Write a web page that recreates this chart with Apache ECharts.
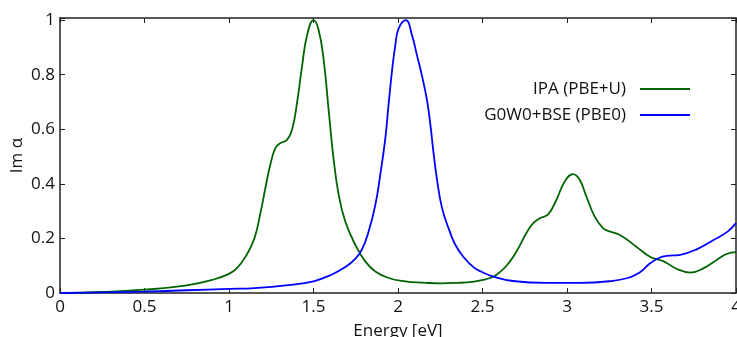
<!DOCTYPE html>
<html>
<head>
<meta charset="utf-8">
<script src="https://cdn.jsdelivr.net/npm/echarts@6/dist/echarts.min.js"></script>
<style>
html,body{margin:0;padding:0;background:#fff;}
#chart{width:737px;height:337px;}
</style>
</head>
<body>
<div id="chart"></div>
<script>
const seriesNames = ['IPA (PBE+U)', 'G0W0+BSE (PBE0)'];
const xAxisName = 'Energy [eV]';
const yAxisName = 'Im α';

const energyIPA = [0, 0.25, 0.5, 0.75, 0.9, 1.0, 1.05, 1.1, 1.15, 1.185, 1.215, 1.244, 1.274, 1.303, 1.343, 1.373, 1.402, 1.432, 1.462, 1.5, 1.53, 1.56, 1.589, 1.619, 1.649, 1.688, 1.747, 1.806, 1.866, 1.944, 2.043, 2.15, 2.25, 2.35, 2.45, 2.51, 2.544, 2.583, 2.642, 2.701, 2.76, 2.8, 2.839, 2.888, 2.937, 2.986, 3.036, 3.075, 3.115, 3.164, 3.213, 3.252, 3.316, 3.414, 3.493, 3.572, 3.651, 3.73, 3.809, 3.888, 3.947, 4.0];
const imIPA = [0, 0.004, 0.012, 0.028, 0.048, 0.07, 0.093, 0.135, 0.2, 0.29, 0.384, 0.469, 0.531, 0.549, 0.561, 0.598, 0.695, 0.83, 0.945, 1.0, 0.965, 0.855, 0.675, 0.49, 0.36, 0.262, 0.177, 0.116, 0.079, 0.055, 0.043, 0.038, 0.035, 0.037, 0.042, 0.049, 0.055, 0.067, 0.1, 0.152, 0.22, 0.256, 0.274, 0.288, 0.341, 0.408, 0.436, 0.415, 0.353, 0.28, 0.238, 0.226, 0.212, 0.168, 0.132, 0.116, 0.088, 0.075, 0.091, 0.122, 0.144, 0.15];

const energyBSE = [0, 0.25, 0.5, 0.75, 1.0, 1.15, 1.35, 1.5, 1.609, 1.688, 1.747, 1.787, 1.826, 1.866, 1.895, 1.925, 1.944, 1.964, 1.984, 2.004, 2.047, 2.083, 2.112, 2.142, 2.172, 2.191, 2.211, 2.231, 2.26, 2.3, 2.339, 2.39, 2.45, 2.5, 2.56, 2.68, 2.88, 3.08, 3.25, 3.36, 3.43, 3.49, 3.55, 3.59, 3.67, 3.77, 3.87, 3.95, 4.0];
const imBSE = [0, 0.002, 0.005, 0.01, 0.015, 0.018, 0.029, 0.043, 0.068, 0.095, 0.125, 0.16, 0.225, 0.323, 0.433, 0.567, 0.689, 0.811, 0.908, 0.97, 1.0, 0.945, 0.872, 0.796, 0.705, 0.62, 0.51, 0.415, 0.313, 0.236, 0.177, 0.13, 0.093, 0.076, 0.061, 0.044, 0.037, 0.037, 0.043, 0.055, 0.075, 0.108, 0.13, 0.136, 0.14, 0.161, 0.195, 0.225, 0.256];

const xTicks = [0, 0.5, 1, 1.5, 2, 2.5, 3, 3.5, 4];
const yTicks = [0, 0.2, 0.4, 0.6, 0.8, 1];

const pairs = (xs, ys) => xs.map((x, i) => [x, ys[i]]);
const FONT = 'Open Sans';
const TXT = '#111';
const FRAME = '#222';

const isTick = (v, ticks) => ticks.some(t => Math.abs(t - v) < 1e-9);

const chart = echarts.init(document.getElementById('chart'), null, {renderer: 'canvas'});
const axisCommon = {
  axisLine: {show: true, onZero: false, lineStyle: {color: FRAME, width: 1.5}},
  axisTick: {show: true, inside: true, length: 5, lineStyle: {color: FRAME, width: 1}},
  splitLine: {show: false}
};
chart.setOption({
  animation: false,
  backgroundColor: '#fff',
  grid: {left: 60, right: 1, top: 18, bottom: 44, containLabel: false, outerBoundsMode: 'none'},
  legend: {
    orient: 'vertical',
    right: 42,
    top: 73,
    align: 'right',
    icon: 'rect',
    itemWidth: 50,
    itemHeight: 2,
    itemGap: 4,
    textStyle: {fontFamily: FONT, fontSize: 17, color: TXT, padding: [0, 9, 0, 0], lineHeight: 22},
    data: seriesNames
  },
  xAxis: [
    Object.assign({}, axisCommon, {
      type: 'value', position: 'bottom', min: xTicks[0], max: xTicks[xTicks.length - 1], interval: 0.5,
      name: xAxisName, nameLocation: 'middle', nameGap: 30, nameMoveOverlap: false,
      nameTextStyle: {fontFamily: FONT, fontSize: 17, color: TXT},
      axisLabel: {fontFamily: FONT, fontSize: 17, color: TXT, margin: 6,
        formatter: v => isTick(v, xTicks) ? String(v) : ''}
    }),
    Object.assign({}, axisCommon, {
      type: 'value', position: 'top', min: xTicks[0], max: xTicks[xTicks.length - 1], interval: 0.5,
      axisLabel: {show: false}
    })
  ],
  yAxis: [
    Object.assign({}, axisCommon, {
      type: 'value', position: 'left', min: 0, max: 1.008, interval: 0.2,
      name: yAxisName, nameLocation: 'middle', nameGap: 34, nameMoveOverlap: false,
      nameTextStyle: {fontFamily: FONT, fontSize: 17, color: TXT},
      axisLabel: {fontFamily: FONT, fontSize: 17, color: TXT, margin: 5,
        formatter: v => isTick(Math.round(v * 1000) / 1000, yTicks) ? String(Math.round(v * 10) / 10) : ''}
    }),
    Object.assign({}, axisCommon, {
      type: 'value', position: 'right', min: 0, max: 1.008, interval: 0.2,
      axisLabel: {show: false}
    })
  ],
  series: [
    {
      name: seriesNames[0], type: 'line', xAxisIndex: 0, yAxisIndex: 0,
      data: pairs(energyIPA, imIPA), symbol: 'none', smooth: 0.45,
      lineStyle: {color: '#006400', width: 1.8}, itemStyle: {color: '#006400'}
    },
    {
      name: seriesNames[1], type: 'line', xAxisIndex: 0, yAxisIndex: 0,
      data: pairs(energyBSE, imBSE), symbol: 'none', smooth: 0.45,
      lineStyle: {color: '#0000ff', width: 1.8}, itemStyle: {color: '#0000ff'}
    }
  ]
});
</script>
</body>
</html>
